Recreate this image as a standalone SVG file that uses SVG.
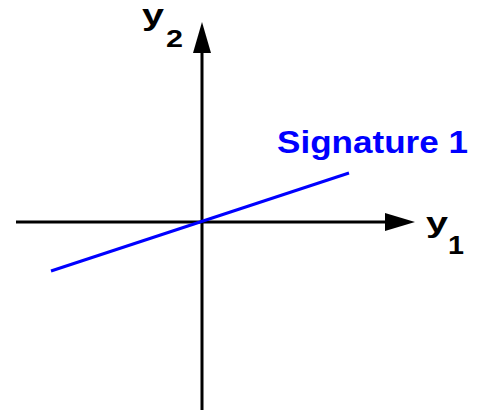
<svg xmlns="http://www.w3.org/2000/svg" width="477" height="414" viewBox="0 0 477 414">
<style>
.ax{stroke:#000;stroke-width:3;fill:none}
.lbl{font-family:"Liberation Sans",Arial,sans-serif;font-weight:bold;fill:#000}
.sig{font-family:"Liberation Sans",Arial,sans-serif;font-weight:bold;fill:#0000ff}
</style>
<g id="connectors">
<line class="ax" x1="16" y1="222" x2="390" y2="222"/>
<polygon points="385,213 415,222 385,231" fill="#000"/>
<line class="ax" x1="202" y1="410" x2="202" y2="48"/>
<polygon points="193,53 202,22 211,53" fill="#000"/>
<line x1="51" y1="271" x2="349" y2="173" stroke="#0000ff" stroke-width="3"/>
</g>
<g id="y2">
<text class="lbl" x="142" y="25" font-size="29" textLength="22" lengthAdjust="spacingAndGlyphs">y</text>
<text class="lbl" x="166" y="47" font-size="24" textLength="17" lengthAdjust="spacingAndGlyphs">2</text>
</g>
<g id="y1">
<text class="lbl" x="426" y="232" font-size="28" textLength="22" lengthAdjust="spacingAndGlyphs">y</text>
<text class="lbl" x="448" y="254" font-size="26" textLength="16" lengthAdjust="spacingAndGlyphs">1</text>
</g>
<g id="signature1">
<text class="sig" x="277" y="153" font-size="32" textLength="191" lengthAdjust="spacingAndGlyphs">Signature 1</text>
</g>
</svg>
